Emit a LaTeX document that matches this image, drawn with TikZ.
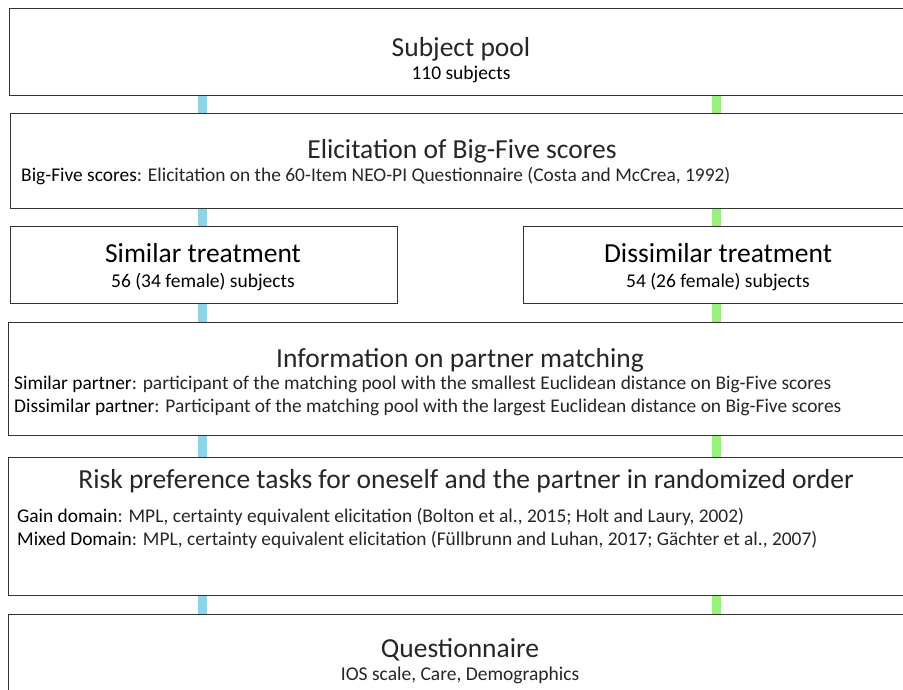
\documentclass[tikz,border=0pt]{standalone}
\usepackage{fontspec}
\setmainfont{Carlito}
\definecolor{boxline}{HTML}{333333}
\definecolor{barblue}{HTML}{8FD3E8}
\definecolor{bargreen}{HTML}{9AF07C}
\definecolor{lighttext}{HTML}{262626}
\begin{document}
\begin{tikzpicture}[x=1pt,y=-1pt,
  box/.style={draw=boxline,line width=1.4pt,fill=white,inner sep=0pt,anchor=north west},
  ttl/.style={anchor=base,inner sep=0pt,font=\fontsize{27.5}{32}\selectfont,text=lighttext},
  sub/.style={anchor=base,inner sep=0pt,font=\fontsize{19.5}{23}\selectfont,text=black},
  body/.style={anchor=base west,inner sep=0pt,font=\fontsize{19.4}{23}\selectfont,text=lighttext},
  bluebar/.style={draw=barblue,line width=9pt},
  greenbar/.style={draw=bargreen,line width=9pt}]
\useasboundingbox (0,0) rectangle (903,690);
\clip (0,0) rectangle (903,690);
% connector x positions
\coordinate (xb) at (202.5,0);
\coordinate (xg) at (716.5,0);
% boxes
\node[box,minimum width=905pt,minimum height=87pt] (b1) at (9,8) {};
\node[box,minimum width=905pt,minimum height=95pt] (b2) at (10,113) {};
\node[box,minimum width=387pt,minimum height=77pt] (b3a) at (10,226) {};
\node[box,minimum width=392pt,minimum height=77pt] (b3b) at (523,226) {};
\node[box,minimum width=907pt,minimum height=113pt] (b4) at (8,322) {};
\node[box,minimum width=907pt,minimum height=138pt] (b5) at (8,457) {};
\node[box,minimum width=907pt,minimum height=100pt] (b6) at (8,614) {};
% connectors
\draw[bluebar] (b1.south -| xb) -- (b2.north -| xb);
\draw[greenbar] (b1.south -| xg) -- (b2.north -| xg);
\draw[bluebar] (b2.south -| xb) -- (b3a.north -| xb);
\draw[greenbar] (b2.south -| xg) -- (b3b.north -| xg);
\draw[bluebar] (b3a.south -| xb) -- (b4.north -| xb);
\draw[greenbar] (b3b.south -| xg) -- (b4.north -| xg);
\draw[bluebar] (b4.south -| xb) -- (b5.north -| xb);
\draw[greenbar] (b4.south -| xg) -- (b5.north -| xg);
\draw[bluebar] (b5.south -| xb) -- (b6.north -| xb);
\draw[greenbar] (b5.south -| xg) -- (b6.north -| xg);
% texts
\node[ttl] (t1) at (461,57) {Subject pool};
\node[sub] (s1) at (461,80) {110 subjects};
\node[ttl] (t2) at (462,159) {Elicitation of Big-Five scores};
\node[body] (l2) at (21,182) {{\color{black}Big-Five scores}: Elicitation on the 60-Item NEO-PI Questionnaire (Costa and McCrea, 1992)};
\node[ttl,text=black] (t3a) at (203,262) {Similar treatment};
\node[sub] (s3a) at (203,287) {56 (34 female) subjects};
\node[ttl,text=black] (t3b) at (718,262) {Dissimilar treatment};
\node[sub] (s3b) at (718,287) {54 (26 female) subjects};
\node[ttl] (t4) at (460,367) {Information on partner matching};
\node[body] (l4a) at (14,389) {{\color{black}Similar partner}: participant of the matching pool with the smallest Euclidean distance on Big-Five scores};
\node[body] (l4b) at (14,412) {{\color{black}Dissimilar partner}: Participant of the matching pool with the largest Euclidean distance on Big-Five scores};
\node[ttl] (t5) at (466,488) {Risk preference tasks for oneself and the partner in randomized order};
\node[body] (l5a) at (17,522) {{\color{black}Gain domain}: MPL, certainty equivalent elicitation (Bolton et al., 2015; Holt and Laury, 2002)};
\node[body] (l5b) at (17,545) {{\color{black}Mixed Domain}: MPL, certainty equivalent elicitation (Füllbrunn and Luhan, 2017; Gächter et al., 2007)};
\node[ttl] (t6) at (460,657) {Questionnaire};
\node[sub,text=lighttext] (s6) at (460,680) {IOS scale, Care, Demographics};
\end{tikzpicture}
\end{document}
